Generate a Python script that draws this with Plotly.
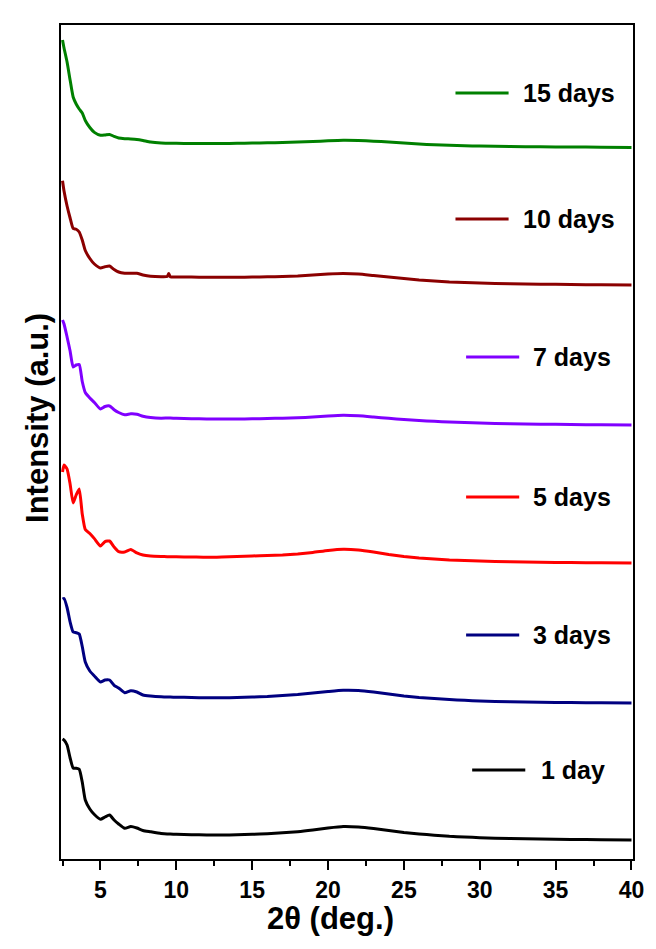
import plotly.graph_objects as go

# 2-theta grid (deg.)
two_theta = [2.5, 2.6, 2.8, 3.0, 3.2, 3.4, 3.6, 3.8, 4.0, 4.3, 4.6, 5.0, 5.3, 5.6, 5.9,
             6.2, 6.6, 7.0, 7.4, 7.8, 8.3, 9.0, 9.4, 9.5, 9.6, 10, 11, 12, 13, 14, 15,
             16, 17, 18, 19, 20, 21, 22, 23, 24, 25, 26, 27, 28, 29, 30, 32, 34, 36, 38, 40]

# Intensities (a.u.) relative to each pattern's high-angle baseline
int_1day = [101, 100, 95, 82, 72, 71.7, 70.7, 58, 40, 31, 25.5, 20.7, 23, 25, 20, 16, 11.7,
            13.5, 12, 9.5, 8.2, 6.5, 6, 6, 6, 5.7, 5.3, 5, 5, 5.2, 5.7, 6.3, 7.2, 8.3, 10,
            12, 13.5, 13, 11.5, 9.5, 7.5, 6, 4.8, 3.7, 3, 2.3, 1.5, 1, 0.6, 0.3, 0]
int_3days = [104, 104.5, 95.5, 81, 71, 70.3, 69, 56.5, 41, 32, 27, 21, 23, 23, 17.7, 15, 10.3,
             12.3, 11, 8, 7, 6.2, 6, 6, 5.9, 5.8, 5.5, 5.2, 5.2, 5.5, 6, 6.5, 7.5, 8.5, 10,
             11.5, 12.7, 12.5, 11, 9, 7, 5.5, 4.5, 3.5, 2.7, 2, 1.2, 0.7, 0.4, 0.2, 0]
int_5days = [91, 98, 94, 79, 60, 68, 74, 49, 33.5, 29.5, 24.4, 17, 21.4, 22, 16, 11.3, 11,
             13.5, 10.1, 8, 7, 6.5, 6.3, 6.3, 6.3, 6.2, 6, 5.7, 6, 6.5, 7, 7.5, 8, 9, 10.5,
             12.5, 13.7, 13, 11, 8.5, 6.5, 5, 4, 3, 2.5, 2, 1.2, 0.7, 0.4, 0.2, 0]
int_7days = [105, 101, 88, 74, 58, 60, 60.5, 43.5, 32.5, 27, 22.5, 16, 18.5, 19, 15.3, 12.5,
             10.2, 11.2, 10.8, 8.8, 7.5, 6.8, 7, 7, 7, 6.7, 6.3, 6, 6, 6, 6.2, 6.5, 6.8, 7.2,
             8, 9, 9.7, 9.2, 8, 6.7, 5.5, 4.5, 3.7, 3, 2.5, 2, 1.2, 0.8, 0.5, 0.2, 0]
int_10days = [104.3, 94, 79, 67, 56.5, 55.7, 53, 45, 34.5, 26.5, 21, 17, 18.3, 19, 15.5, 13,
              11.8, 11.7, 11.7, 10, 8.7, 8.3, 8.5, 11.5, 8.3, 8, 8, 7.7, 7.7, 7.7, 8, 8.2,
              8.5, 9, 10, 11, 11.5, 11, 9.5, 8, 6.5, 5, 4, 3, 2.5, 2, 1.2, 0.8, 0.5, 0.2, 0]
int_15days = [107.5, 99.5, 85.5, 67.5, 50.5, 43.5, 38.5, 34.5, 27, 20, 15.1, 12.2, 12.5, 13.1,
              11.1, 9.5, 8.8, 8.5, 8, 7, 5.5, 4.5, 4.3, 4.2, 4.2, 4.2, 4, 4, 4, 4.2, 4.5, 4.7,
              5, 5.5, 6, 6.7, 7.2, 7, 6.3, 5.5, 4.5, 3.5, 2.7, 2.2, 1.7, 1.5, 1, 0.7, 0.5, 0.3, 0]

labels = ["1 day", "3 days", "5 days", "7 days", "10 days", "15 days"]
patterns = [int_1day, int_3days, int_5days, int_7days, int_10days, int_15days]
offsets = [19, 156, 296, 434, 574, 711.5]
colors = ["#000000", "#000080", "#FF0000", "#8000FF", "#8B0000", "#008000"]

# Key placement: (line start, line end, text start) in 2-theta, and height
key_x = [(29.5, 33.0, 33.9), (29.1, 32.6, 33.4), (29.1, 32.6, 33.4),
         (29.1, 32.6, 33.4), (28.4, 31.9, 32.7), (28.4, 31.9, 32.7)]
key_y = [89, 224, 362, 502, 640, 766]

FONT = "Liberation Sans, Arial, Helvetica, sans-serif"

fig = go.Figure()
for lab, vals, off, col in zip(labels, patterns, offsets, colors):
    fig.add_trace(go.Scatter(
        x=two_theta, y=[v + off for v in vals], mode="lines", name=lab,
        line=dict(color=col, width=3, shape="spline", smoothing=0.5), showlegend=False,
    ))

shapes = []
annotations = []
for lab, col, (x0, x1, xt), ky in zip(labels, colors, key_x, key_y):
    shapes.append(dict(type="line", xref="x", yref="y", x0=x0, x1=x1, y0=ky, y1=ky,
                       line=dict(color=col, width=3)))
    annotations.append(dict(xref="x", yref="y", x=xt, y=ky, text=lab, showarrow=False,
                            xanchor="left", yanchor="middle",
                            font=dict(family=FONT, size=25, color="black", weight="bold")))

annotations.append(dict(xref="paper", yref="paper", x=-0.04, y=0.529, text="Intensity (a.u.)",
                        textangle=-90, showarrow=False, xanchor="center", yanchor="middle",
                        font=dict(family=FONT, size=31, color="black", weight="bold")))
annotations.append(dict(xref="paper", yref="paper", x=0.472, y=-0.071, text="2θ (deg.)",
                        showarrow=False, xanchor="center", yanchor="middle",
                        font=dict(family=FONT, size=31, color="black", weight="bold")))

fig.update_layout(
    width=656, height=949,
    margin=dict(l=61, r=17, t=25, b=90),
    paper_bgcolor="white", plot_bgcolor="white",
    shapes=shapes, annotations=annotations,
    xaxis=dict(
        range=[2.4, 40.1], tickmode="array", tickvals=[5, 10, 15, 20, 25, 30, 35, 40],
        ticks="outside", ticklen=9, tickwidth=2, tickcolor="black",
        minor=dict(tickvals=[2.5, 7.5, 12.5, 17.5, 22.5, 27.5, 32.5, 37.5],
                   ticks="outside", ticklen=5, tickwidth=2, tickcolor="black"),
        showline=True, linewidth=2, linecolor="black", mirror=True,
        showgrid=False, zeroline=False,
        tickfont=dict(family=FONT, size=23, color="black", weight="bold"),
    ),
    yaxis=dict(
        range=[0, 834], showticklabels=False, ticks="",
        showline=True, linewidth=2, linecolor="black", mirror=True,
        showgrid=False, zeroline=False,
    ),
)

fig.write_html("out.html")
